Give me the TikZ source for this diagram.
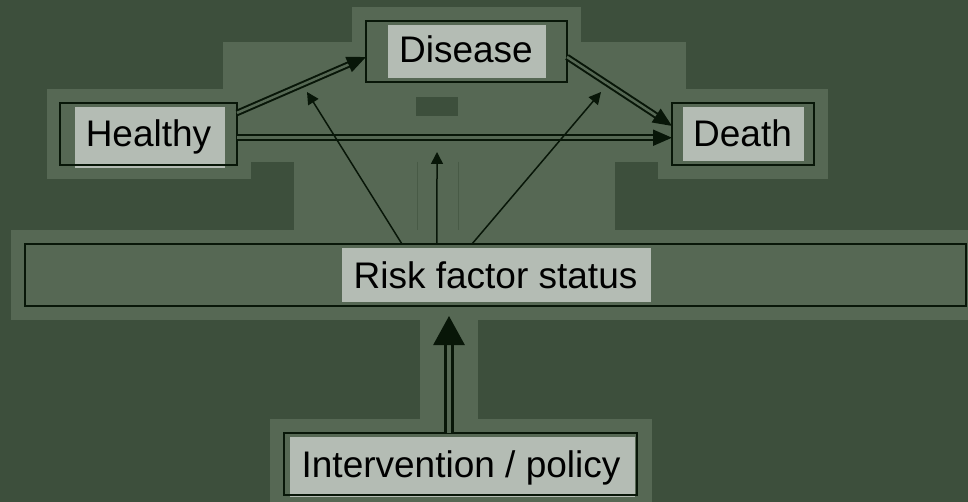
\documentclass[tikz,border=0pt]{standalone}
\usepackage{fontspec}
\setmainfont{Liberation Sans}
\usetikzlibrary{calc,arrows.meta}
\definecolor{bgdark}{RGB}{61,79,60}
\definecolor{bglight}{RGB}{86,104,84}
\definecolor{boxfill}{RGB}{180,188,180}
\definecolor{ink}{RGB}{8,22,8}
\definecolor{faint}{RGB}{72,90,70}
\begin{document}
\begin{tikzpicture}[x=1pt,y=-1pt,
  boxborder/.style={draw=ink,line width=1.6pt,minimum height=62pt,inner sep=0pt,outer sep=0pt},
  lbl/.style={font=\fontsize{37}{44}\selectfont,text=black,inner sep=0pt,anchor=base},
  textbg/.style={fill=boxfill},
  dblarrow/.style={draw=ink,double=bglight,line width=2pt,double distance=2.5pt,-{Triangle[length=19pt,width=16pt]}},
  thinarrow/.style={draw=ink,line width=1.5pt,-{Triangle[length=12pt,width=12pt]}},
  bigarrow/.style={draw=ink,double=bglight,line width=3pt,double distance=3.5pt,-{Triangle[length=29pt,width=31pt]}}]
% background
\fill[bgdark] (0,0) rectangle (968,502);
\useasboundingbox (0,0) rectangle (968,502);
% light panel
\begin{scope}[bglight]
\fill (352,7) rectangle (581,42);
\fill (223,42) rectangle (686,89);
\fill (47,89) rectangle (828,162);
\fill (47,162) rectangle (251,179);
\fill (658,162) rectangle (828,179);
\fill (294,162) rectangle (615,230);
\fill (11,230) rectangle (968,320);
\fill (420,320) rectangle (478,419);
\fill (270,419) rectangle (652,502);
\end{scope}
% small details
\fill[bgdark] (416,97) rectangle (458,116);
\draw[faint,line width=1pt] (417,162) -- (417,230);
\draw[faint,line width=1pt] (458,162) -- (458,230);
% text backgrounds
\fill[textbg] (75,107) rectangle (225,168);
\fill[textbg] (388,25) rectangle (546,78);
\fill[textbg] (683,107) rectangle (804,161);
\fill[textbg] (342,248) rectangle (651,302);
\fill[textbg] (290,437) rectangle (635,497);
% box borders
\node[boxborder,minimum width=177pt] (hb) at (148.5,134) {};
\node[boxborder,minimum width=201pt,minimum height=61pt] (db) at (466.5,51.5) {};
\node[boxborder,minimum width=142pt] (deb) at (743,134) {};
\node[boxborder,minimum width=941pt] (rb) at (495.5,275) {};
\node[boxborder,minimum width=353pt] (ib) at (460.5,464) {};
% labels
\node[lbl] (th) at (148.5,147) {Healthy};
\node[lbl] (td) at (466,63) {Disease};
\node[lbl] (tde) at (742.5,147) {Death};
\node[lbl] (tr) at (495.5,288) {Risk factor status};
\node[lbl] (ti) at (461,477) {Intervention / policy};
% free ends
\coordinate (tipD) at (307,92);
\coordinate (tipM) at (437,152);
\coordinate (tipR) at (601,92);
\coordinate (ibtop) at ($(ib.north west)!0.4674!(ib.north east)$);
% arrows
\draw[dblarrow] ($(hb.north east)!0.16!(hb.south east)$) -- ($(db.north west)!0.59!(db.south west)$);
\draw[dblarrow] ($(db.north east)!0.59!(db.south east)$) -- ($(deb.north west)!0.37!(deb.south west)$);
\draw[dblarrow] ($(hb.north east)!0.56!(hb.south east)$) -- ($(deb.north west)!0.56!(deb.south west)$);
\draw[thinarrow] ($(rb.north west)!0.4006!(rb.north east)$) -- (tipD);
\draw[thinarrow] ($(rb.north west)!0.4378!(rb.north east)$) -- (tipM);
\draw[thinarrow] ($(rb.north west)!0.475!(rb.north east)$) -- (tipR);
\draw[bigarrow,shorten >=10pt] (ibtop) -- (ibtop |- rb.south);
\end{tikzpicture}
\end{document}
